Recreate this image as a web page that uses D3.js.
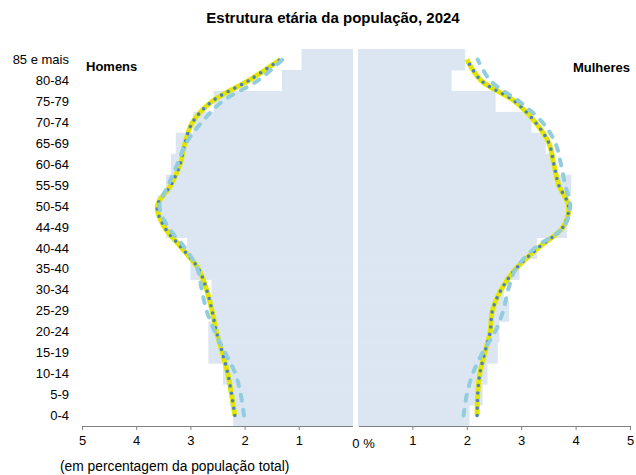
<!DOCTYPE html>
<html>
<head>
<meta charset="utf-8">
<script src="https://cdn.jsdelivr.net/npm/d3@7"></script>
<style>
  body { margin: 0; background: #fff; }
  svg { display: block; font-family: Arial, 'Liberation Sans', sans-serif; }
  .axis path, .axis line { stroke: #808080; }
  .axis text { font-size: 13px; fill: #000; }
</style>
</head>
<body>
<div id="chart"></div>
<script>
'use strict';

// age groups, bottom to top
const ageGroups = ['0-4', '5-9', '10-14', '15-19', '20-24', '25-29', '30-34', '35-40', '40-44',
  '44-49', '50-54', '55-59', '60-64', '65-69', '70-74', '75-79', '80-84', '85 e mais'];

// background bars (% of total population)
const menBars = [2.21, 2.27, 2.40, 2.67, 2.67, 2.61, 2.61, 3.00, 3.06,
  3.45, 3.61, 3.45, 3.36, 3.27, 2.95, 2.57, 1.31, 0.95];
const womenBars = [2.05, 2.29, 2.38, 2.57, 2.60, 2.78, 2.68, 2.97, 3.29,
  3.84, 3.87, 3.92, 3.62, 3.45, 3.19, 2.53, 1.72, 1.97];

// yellow / dotted line
const menLine = [2.18, 2.24, 2.31, 2.41, 2.52, 2.60, 2.70, 2.85, 3.16,
  3.48, 3.61, 3.36, 3.19, 3.10, 2.96, 2.60, 1.92, 1.34];
const womenLine = [2.19, 2.20, 2.24, 2.33, 2.43, 2.47, 2.63, 2.90, 3.31,
  3.77, 3.87, 3.69, 3.60, 3.51, 3.26, 2.88, 2.26, 2.00];

// dashed line
const menDashed = [2.01, 2.07, 2.17, 2.36, 2.55, 2.70, 2.79, 2.87, 3.10,
  3.41, 3.57, 3.41, 3.24, 3.08, 2.79, 2.41, 1.75, 1.30];
const womenDashed = [1.94, 2.00, 2.11, 2.29, 2.52, 2.67, 2.76, 2.90, 3.25,
  3.78, 3.90, 3.81, 3.73, 3.63, 3.39, 2.96, 2.43, 2.20];

const tickValues = [1, 2, 3, 4, 5];

const width = 636, height = 475;

let svg = d3.select('#chart').append('svg')
  .attr('width', width).attr('height', height);

let y = d3.scaleBand().domain(ageGroups).range([426, 49]).paddingInner(0);
let xLeft = d3.scaleLinear().domain([0, 5]).range([353, 82]);
let xRight = d3.scaleLinear().domain([0, 5]).range([358, 630]);

// bars
let bars = svg.append('g').attr('fill', '#dce6f2');
bars.selectAll('.men').data(menBars).enter().append('rect')
  .attr('x', d => xLeft(d)).attr('y', (d, i) => y(ageGroups[i]))
  .attr('width', d => xLeft(0) - xLeft(d)).attr('height', y.bandwidth() + 0.5);
bars.selectAll('.women').data(womenBars).enter().append('rect')
  .attr('x', xRight(0)).attr('y', (d, i) => y(ageGroups[i]))
  .attr('width', d => xRight(d) - xRight(0)).attr('height', y.bandwidth() + 0.5);

// axes
let fmt = d3.format('d');
svg.append('g').classed('axis', true)
  .attr('transform', `translate(0,${y.range()[0]})`)
  .call(d3.axisBottom(xLeft).tickValues(tickValues).tickFormat(fmt).tickSize(4).tickSizeOuter(0).tickPadding(6))
  .call(g => g.select('.domain').attr('d', `M${xLeft(5)},0.5H${xLeft(0)}`));

svg.append('g').classed('axis', true)
  .attr('transform', `translate(0,${y.range()[0]})`)
  .call(d3.axisBottom(xRight).tickValues(tickValues).tickFormat(fmt).tickSize(4).tickSizeOuter(0).tickPadding(6))
  .call(g => g.select('.domain').attr('d', `M${xRight(0) + 1},0.5H${xRight(5)}`));

svg.append('text')
  .attr('x', (xLeft(0) + xRight(0)) / 2 + 8).attr('y', 447.5)
  .attr('text-anchor', 'middle').style('font-size', '13px')
  .text('0 %');

// age labels
svg.append('g').selectAll('text').data(ageGroups).enter().append('text')
  .attr('x', 69).attr('y', d => y(d) + y.bandwidth() / 2)
  .attr('dy', '0.35em').attr('text-anchor', 'end').style('font-size', '13px')
  .text(d => d);

// lines
let yMid = i => y(ageGroups[i]) + y.bandwidth() / 2;
let lineLeft = d3.line().x(d => xLeft(d)).y((d, i) => yMid(i)).curve(d3.curveCatmullRom);
let lineRight = d3.line().x(d => xRight(d)).y((d, i) => yMid(i)).curve(d3.curveCatmullRom);

function drawLines(gen, solid, dashed) {
  svg.append('path').attr('d', gen(solid)).attr('fill', 'none')
    .attr('stroke', '#e2e600').attr('stroke-width', 5).attr('stroke-linejoin', 'round');
  svg.append('path').attr('d', gen(solid)).attr('fill', 'none')
    .attr('stroke', '#4f81bd').attr('stroke-width', 3.6)
    .attr('stroke-linecap', 'round').attr('stroke-dasharray', '0,7.5');
  svg.append('path').attr('d', gen(dashed)).attr('fill', 'none')
    .attr('stroke', '#93cddd').attr('stroke-width', 4)
    .attr('stroke-linecap', 'round').attr('stroke-dasharray', '6,9');
}
drawLines(lineLeft, menLine, menDashed);
drawLines(lineRight, womenLine, womenDashed);

// titles
svg.append('text')
  .attr('x', 333).attr('y', 23).attr('text-anchor', 'middle')
  .style('font-size', '15px').style('font-weight', 'bold')
  .text('Estrutura etária da população, 2024');

svg.append('text')
  .attr('x', 86).attr('y', 70.5)
  .style('font-size', '13px').style('font-weight', 'bold')
  .text('Homens');

svg.append('text')
  .attr('x', 630).attr('y', 71.5).attr('text-anchor', 'end')
  .style('font-size', '13px').style('font-weight', 'bold')
  .text('Mulheres');

svg.append('text')
  .attr('x', 60).attr('y', 471)
  .style('font-size', '13.8px')
  .text('(em percentagem da população total)');
</script>
</body>
</html>
